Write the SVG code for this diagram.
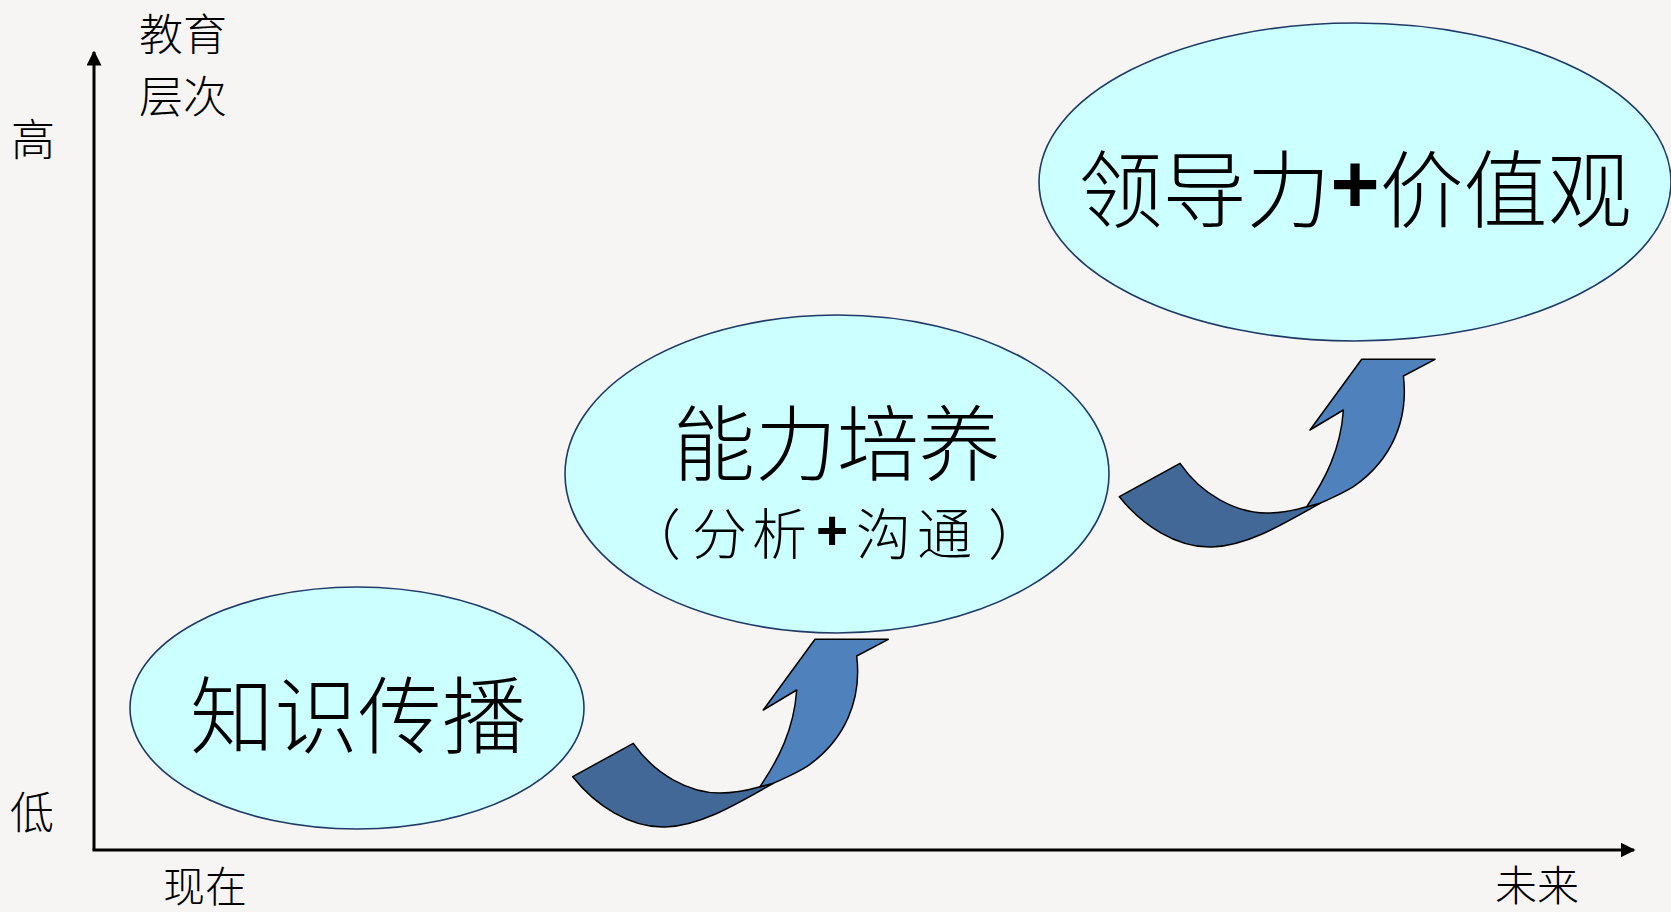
<svg xmlns="http://www.w3.org/2000/svg" xmlns:xlink="http://www.w3.org/1999/xlink" width="1671" height="912" viewBox="0 0 1671 912">
<style>
.ell{fill:#ccffff;stroke:#1f3a66;stroke-width:1.6}
.t{font-family:"Noto Sans CJK SC","Liberation Serif",sans-serif;font-weight:300;fill:#000;text-anchor:middle;dominant-baseline:central}
.s{text-anchor:start}
.plus{font-family:"Liberation Sans",sans-serif;font-weight:bold}
.axis{stroke:#000;stroke-width:3;fill:none}
.dark{fill:#426898;stroke:#000;stroke-width:1.5;stroke-linejoin:round}
.light{fill:#4f81bd;stroke:#000;stroke-width:1.5;stroke-linejoin:round}
</style>
<defs>
<marker id="ah" viewBox="0 0 10 10" refX="9" refY="5" markerWidth="5" markerHeight="5" orient="auto" markerUnits="strokeWidth">
<path d="M0,0 L10,5 L0,10 Z" fill="#000"/>
</marker>
<g id="curvedArrow">
<path class="dark" d="M572.7,776.7 L633.3,743.3 C655,775 690,793 720,793 C740,793 752,789 760,786.7 L773.3,783.3 C735,805 700,826 665,827 C630,828 595,805 572.7,776.7 Z"/>
<path class="light" d="M760,786.7 C778,760 794,730 796.7,690 L763.3,710 L815,639.3 L888.3,639.3 L856.7,656 C862,700 845,740 806.7,766.7 C795,774 785,778 773.3,783.3 Z"/>
</g>
</defs>
<rect width="1671" height="912" fill="#f6f5f3"/>
<g id="axes">
<line class="axis" x1="94" y1="850" x2="94" y2="52" marker-end="url(#ah)"/>
<line class="axis" x1="92.5" y1="850" x2="1634" y2="850" marker-end="url(#ah)"/>
<text class="t" x="183" y="32" font-size="44">教育</text>
<text class="t" x="183" y="94" font-size="44">层次</text>
<text class="t" x="33" y="137" font-size="44">高</text>
<text class="t" x="32" y="810" font-size="44">低</text>
<text class="t" x="205" y="883" font-size="42">现在</text>
<text class="t" x="1537" y="882" font-size="42">未来</text>
</g>
<g id="connectors">
<use xlink:href="#curvedArrow"/>
<use xlink:href="#curvedArrow" transform="translate(546.7,-280)"/>
</g>
<g id="node-knowledge">
<ellipse class="ell" cx="357" cy="708" rx="227" ry="121"/>
<text class="t" x="358" y="710" font-size="84">知识传播</text>
</g>
<g id="node-ability">
<ellipse class="ell" cx="837" cy="474" rx="272" ry="159"/>
<text class="t" x="837" y="438" font-size="82">能力培养</text>
<text class="t s" y="530" font-size="55"><tspan x="626">（</tspan><tspan x="692">分</tspan><tspan x="752">析</tspan><tspan x="816" class="plus">+</tspan><tspan x="856">沟</tspan><tspan x="917">通</tspan><tspan x="988">）</tspan></text>
</g>
<g id="node-leadership">
<ellipse class="ell" cx="1355" cy="182" rx="316" ry="159"/>
<text class="t" x="1355" y="184" font-size="84">领导力<tspan class="plus">+</tspan>价值观</text>
</g>
</svg>
